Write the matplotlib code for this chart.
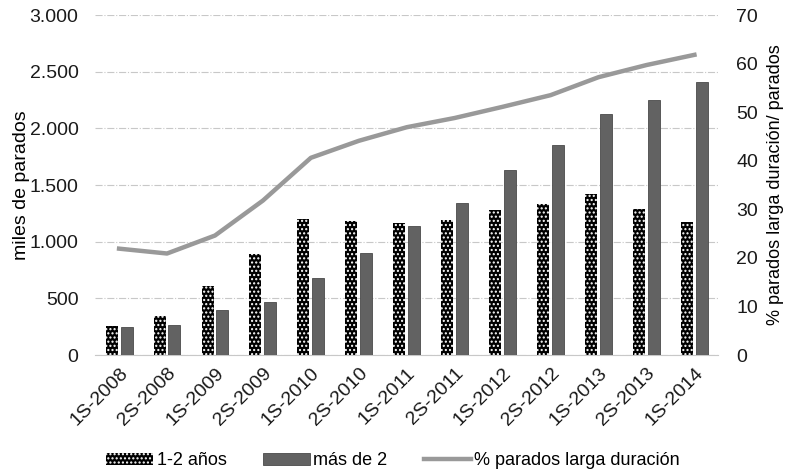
import numpy as np
import matplotlib.pyplot as plt
from matplotlib.ticker import FuncFormatter

plt.rcParams['font.family'] = ['Liberation Sans', 'DejaVu Sans']
plt.rcParams['hatch.linewidth'] = 1.0

# datos
periodos = ["1S-2008", "2S-2008", "1S-2009", "2S-2009", "1S-2010", "2S-2010",
            "1S-2011", "2S-2011", "1S-2012", "2S-2012", "1S-2013", "2S-2013",
            "1S-2014"]
uno_dos = [254, 346, 613, 889, 1197, 1180, 1168, 1188, 1277, 1336, 1422, 1292, 1174]
mas_de_2 = [243, 263, 400, 468, 683, 899, 1139, 1345, 1631, 1850, 2125, 2252, 2406]
pct_larga = [21.9, 20.9, 24.6, 31.8, 40.6, 44.1, 46.9, 48.8, 51.1, 53.5, 57.2, 59.7, 61.8]

x = np.arange(len(periodos))
w = 0.25

fig = plt.figure(figsize=(7.86, 4.69), dpi=100)
ax = fig.add_axes([0.121, 0.243, 0.793, 0.725])

ax.bar(x - 0.155, uno_dos, w, color='black', edgecolor='white', hatch='....',
       linewidth=0, label='1-2 años', zorder=3)
ax.bar(x + 0.155, mas_de_2, w, color='#626262', edgecolor='#4a4a4a',
       linewidth=0.6, label='más de 2', zorder=3)

ax.set_ylim(0, 3000)
ax.set_xlim(-0.5, len(periodos) - 0.5)
ax.set_yticks(np.arange(0, 3001, 500))
ax.yaxis.set_major_formatter(FuncFormatter(lambda v, p: f"{int(v):,}".replace(",", ".")))
ax.grid(axis='y', color='#c8c8c8', linestyle='-.', linewidth=0.8, zorder=0)
ax.set_xticks(x)
ax.set_xticklabels(periodos, rotation=45, ha='right', rotation_mode='anchor')
ax.tick_params(axis='both', length=0, labelsize=14, colors='#1a1a1a')
ax.tick_params(axis='y', pad=12)
ax.tick_params(axis='x', pad=7)
ax.set_ylabel("miles de parados", fontsize=14, labelpad=0)
for s in ['top', 'right', 'left']:
    ax.spines[s].set_visible(False)
ax.spines['bottom'].set_color('#c8c8c8')

ax2 = ax.twinx()
ax2.plot(x, pct_larga, color='#999999', linewidth=3.2, label='% parados larga duración', zorder=4)
ax2.set_ylim(0, 70)
ax2.set_yticks(np.arange(0, 71, 10))
ax2.tick_params(axis='y', length=0, labelsize=14, colors='#1a1a1a', pad=13)
ax2.set_ylabel("% parados larga duración/ parados", fontsize=13, labelpad=6)
for s in ax2.spines.values():
    s.set_visible(False)

h1, l1 = ax.get_legend_handles_labels()
h2, l2 = ax2.get_legend_handles_labels()
fig.legend(h1 + h2, l1 + l2, loc='lower center', bbox_to_anchor=(0.5, -0.035),
           ncol=3, frameon=False, fontsize=13, handlelength=2.6,
           handletextpad=0.2, columnspacing=2.0)

fig.savefig("out.png", dpi=100)
